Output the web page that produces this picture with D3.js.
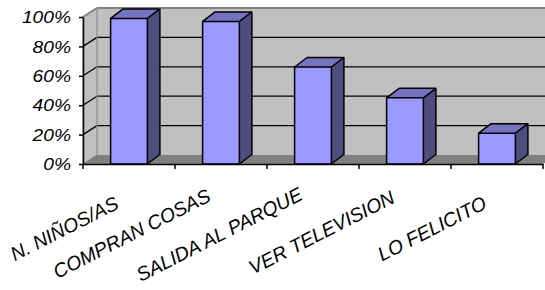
<!DOCTYPE html>
<html>
<head>
<meta charset="utf-8">
<script src="https://cdn.jsdelivr.net/npm/d3@7"></script>
<style>
  body { margin: 0; background: #fff; }
  svg { display: block; }
  text { font-family: "Liberation Sans", Arial, sans-serif; font-style: italic; fill: #000; }
</style>
</head>
<body>
<div id="chart"></div>
<script>
const categories = ['N. NIÑOS/AS', 'COMPRAN COSAS', 'SALIDA AL PARQUE', 'VER TELEVISION', 'LO FELICITO'];
const values = [0.99, 0.97, 0.66, 0.45, 0.21];
const yTicks = [0, 0.2, 0.4, 0.6, 0.8, 1];

const width = 545, height = 290;
const plot = { left: 83, right: 543, top: 17, bottom: 164 };
const wallDepth = { dx: 14, dy: -9 };
const barDepth = { dx: 12.5, dy: -9.5 };

const svg = d3.select('#chart').append('svg')
  .attr('width', width)
  .attr('height', height);

const xScale = d3.scaleBand()
  .domain(categories)
  .range([plot.left, plot.right]);

const yScale = d3.scaleLinear()
  .domain([0, 1])
  .range([plot.bottom, plot.top]);

const pts = arr => arr.map(p => p.join(',')).join(' ');
const wd = wallDepth;

// back wall
svg.append('polygon')
  .attr('points', pts([
    [plot.left + wd.dx, yScale(1) + wd.dy], [plot.right + wd.dx, yScale(1) + wd.dy],
    [plot.right + wd.dx, yScale(0) + wd.dy], [plot.left + wd.dx, yScale(0) + wd.dy]
  ]))
  .attr('fill', '#c0c0c0');

// side wall
svg.append('polygon')
  .attr('points', pts([
    [plot.left, yScale(1)], [plot.left + wd.dx, yScale(1) + wd.dy],
    [plot.left + wd.dx, yScale(0) + wd.dy], [plot.left, yScale(0)]
  ]))
  .attr('fill', '#c0c0c0')
  .attr('stroke', '#808080')
  .attr('stroke-width', 1);

// floor
svg.append('polygon')
  .attr('points', pts([
    [plot.left, yScale(0)], [plot.right, yScale(0)],
    [plot.right + wd.dx, yScale(0) + wd.dy], [plot.left + wd.dx, yScale(0) + wd.dy]
  ]))
  .attr('fill', '#808080');

// gridlines on side and back walls
yTicks.filter(v => v > 0).forEach(v => {
  const y = yScale(v);
  const col = v === 1 ? '#808080' : '#000';
  const sw = v === 1 ? 2 : 1.3;
  svg.append('line')
    .attr('x1', plot.left).attr('y1', y)
    .attr('x2', plot.left + wd.dx).attr('y2', y + wd.dy)
    .attr('stroke', col).attr('stroke-width', sw);
  svg.append('line')
    .attr('x1', plot.left + wd.dx).attr('y1', y + wd.dy)
    .attr('x2', plot.right + wd.dx).attr('y2', y + wd.dy)
    .attr('stroke', col).attr('stroke-width', sw);
});
svg.append('line')
  .attr('x1', plot.left + wd.dx).attr('y1', yScale(1) + wd.dy)
  .attr('x2', plot.left + wd.dx).attr('y2', yScale(0) + wd.dy)
  .attr('stroke', '#a0a0a0').attr('stroke-width', 1);

// bars
const barW = xScale.bandwidth() * 0.4;
const bd = barDepth;
const bars = svg.selectAll('.bar')
  .data(categories.map((c, i) => ({ cat: c, value: values[i] })))
  .enter()
  .append('g')
  .attr('class', 'bar');

bars.each(function (d) {
  const g = d3.select(this);
  const x0 = xScale(d.cat) + (xScale.bandwidth() - barW) / 2;
  const x1 = x0 + barW;
  const yT = yScale(d.value);
  const yB = yScale(0);
  g.append('polygon')
    .attr('points', pts([[x1, yT], [x1 + bd.dx, yT + bd.dy], [x1 + bd.dx, yB + bd.dy], [x1, yB]]))
    .attr('fill', '#4d4d80');
  g.append('polygon')
    .attr('points', pts([[x0, yT], [x1, yT], [x1 + bd.dx, yT + bd.dy], [x0 + bd.dx, yT + bd.dy]]))
    .attr('fill', '#7373bf');
  g.append('rect')
    .attr('x', x0).attr('y', yT)
    .attr('width', barW).attr('height', yB - yT)
    .attr('fill', '#9999ff');
  g.append('path')
    .attr('d', `M${x0},${yB}V${yT}H${x1}V${yB}Z M${x0},${yT}L${x0 + bd.dx},${yT + bd.dy}H${x1 + bd.dx}L${x1},${yT} M${x1 + bd.dx},${yT + bd.dy}V${yB + bd.dy}L${x1},${yB}`)
    .attr('fill', 'none')
    .attr('stroke', '#000')
    .attr('stroke-width', 1.5)
    .attr('stroke-linejoin', 'round');
});

// y axis
const yAxis = svg.append('g')
  .attr('transform', `translate(${plot.left},0)`)
  .call(d3.axisLeft(yScale).tickValues(yTicks).tickFormat(d3.format('.0%')).tickSize(4).tickSizeOuter(0));
yAxis.select('.domain').attr('stroke', '#000').attr('stroke-width', 1.5);
yAxis.selectAll('.tick line').attr('stroke', '#000').attr('stroke-width', 1.5);
yAxis.selectAll('.tick text')
  .attr('x', 0)
  .attr('dy', '0.35em')
  .attr('transform', 'translate(-12,0) scale(1.2,1)')
  .style('font-size', '16px')
  .style('font-family', '"Liberation Sans", Arial, sans-serif')
  .style('font-style', 'italic')
  .attr('fill', '#000');

// x axis
const xAxis = svg.append('g')
  .attr('transform', `translate(0,${plot.bottom})`)
  .call(d3.axisBottom(xScale).tickSize(0).tickFormat(''));
xAxis.select('.domain').attr('stroke', '#000').attr('stroke-width', 1.5);
xAxis.selectAll('.tick').remove();

const bounds = [xScale.range()[0]].concat(categories.map(c => xScale(c) + xScale.bandwidth()));
xAxis.selectAll('.xtick')
  .data(bounds)
  .enter()
  .append('line')
  .attr('x1', d => d).attr('x2', d => d)
  .attr('y1', 0).attr('y2', 5)
  .attr('stroke', '#000').attr('stroke-width', 1.5);

// rotated category labels; shorter labels sit a little lower
svg.selectAll('.xlabel')
  .data(categories)
  .enter()
  .append('text')
  .attr('class', 'xlabel')
  .attr('text-anchor', 'end')
  .style('font-size', '19.5px')
  .text(d => d)
  .attr('transform', function (d) {
    const len = this.getComputedTextLength();
    const x = xScale(d) + xScale.bandwidth() / 2 - 9;
    const y = 223.8 - 0.136 * len;
    return `translate(${x},${y}) rotate(-27)`;
  });
</script>
</body>
</html>
